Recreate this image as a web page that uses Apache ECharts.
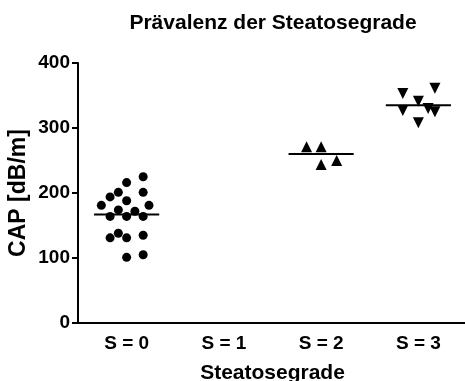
<!DOCTYPE html>
<html>
<head>
<meta charset="utf-8">
<script src="https://cdn.jsdelivr.net/npm/echarts@6/dist/echarts.min.js"></script>
<style>
  html, body { margin: 0; padding: 0; background: #fff; }
  #chart { width: 465px; height: 381px; }
</style>
</head>
<body>
<div id="chart"></div>
<script>
// Steatosis grades and CAP measurements (dB/m)
const categories = ['S = 0', 'S = 1', 'S = 2', 'S = 3'];
const yTicks = [0, 100, 200, 300, 400];

// Each point: [grade index + horizontal spread, CAP value]
const grade0 = [
  [0.17, 225], [0, 216], [0.17, 201], [-0.085, 201], [-0.17, 194],
  [0, 188], [-0.26, 181], [0.23, 181], [-0.085, 174], [0.085, 172],
  [-0.17, 164], [0, 164], [0.17, 164], [-0.085, 138], [0.17, 135],
  [-0.17, 131], [0, 131], [0.17, 105], [0, 101]
];
const grade2 = [[1.85, 271], [2, 271], [2, 244], [2.16, 250]];
const grade3 = [
  [2.84, 353], [3.17, 361], [3, 341], [2.84, 327],
  [3.1, 330], [3.17, 325], [3, 308]
];
// Group means drawn as horizontal bars
const means = [[0, 167], [2, 260], [3, 335]];

const chart = echarts.init(document.getElementById('chart'), null, { renderer: 'canvas' });
const font = 'Liberation Sans, Arial, sans-serif';

chart.setOption({
  animation: false,
  backgroundColor: '#fff',
  title: {
    text: 'Prävalenz der Steatosegrade',
    left: 268,
    top: 8,
    textAlign: 'center',
    textStyle: { fontFamily: font, fontWeight: 'bold', fontSize: 21, color: '#000' }
  },
  grid: {
    left: 78, top: 63, width: 389, height: 260,
    containLabel: false,
    outerBoundsMode: 'none'
  },
  xAxis: [
    {
      type: 'category',
      data: categories,
      boundaryGap: true,
      name: 'Steatosegrade',
      nameLocation: 'middle',
      nameGap: 40,
      nameTextStyle: { fontFamily: font, fontWeight: 'bold', fontSize: 21, color: '#000' },
      axisLine: { lineStyle: { color: '#000', width: 2 } },
      axisTick: { alignWithLabel: true, length: 7, lineStyle: { color: '#000', width: 2 } },
      axisLabel: { margin: 11, fontFamily: font, fontWeight: 'bold', fontSize: 19, color: '#000' },
      splitLine: { show: false }
    },
    {
      type: 'value',
      min: -0.5,
      max: 3.5,
      show: false
    }
  ],
  yAxis: {
    type: 'value',
    min: yTicks[0],
    max: yTicks[yTicks.length - 1],
    interval: 100,
    name: 'CAP [dB/m]',
    nameLocation: 'middle',
    nameGap: 48,
    nameMoveOverlap: false,
    nameTextStyle: { fontFamily: font, fontWeight: 'bold', fontSize: 23, color: '#000' },
    axisLine: { show: true, onZero: false, lineStyle: { color: '#000', width: 2 } },
    axisTick: { show: true, length: 6, lineStyle: { color: '#000', width: 2 } },
    axisLabel: { margin: 8, fontFamily: font, fontWeight: 'bold', fontSize: 19, color: '#000' },
    splitLine: { show: false }
  },
  series: [
    {
      type: 'scatter',
      xAxisIndex: 1,
      data: grade0,
      symbol: 'circle',
      symbolSize: 9,
      itemStyle: { color: '#000', opacity: 1 }
    },
    {
      type: 'scatter',
      xAxisIndex: 1,
      data: grade2,
      symbol: 'triangle',
      symbolSize: [11, 11],
      itemStyle: { color: '#000', opacity: 1 }
    },
    {
      type: 'scatter',
      xAxisIndex: 1,
      data: grade3,
      symbol: 'triangle',
      symbolRotate: 180,
      symbolSize: [11, 11],
      itemStyle: { color: '#000', opacity: 1 }
    },
    {
      type: 'custom',
      xAxisIndex: 1,
      data: means,
      z: 3,
      renderItem: function (params, api) {
        const x = api.value(0);
        const m = api.value(1);
        const a = api.coord([x - 0.335, m]);
        const b = api.coord([x + 0.335, m]);
        return {
          type: 'line',
          shape: { x1: a[0], y1: a[1], x2: b[0], y2: b[1] },
          style: { stroke: '#000', lineWidth: 2 }
        };
      }
    }
  ]
});
</script>
</body>
</html>
